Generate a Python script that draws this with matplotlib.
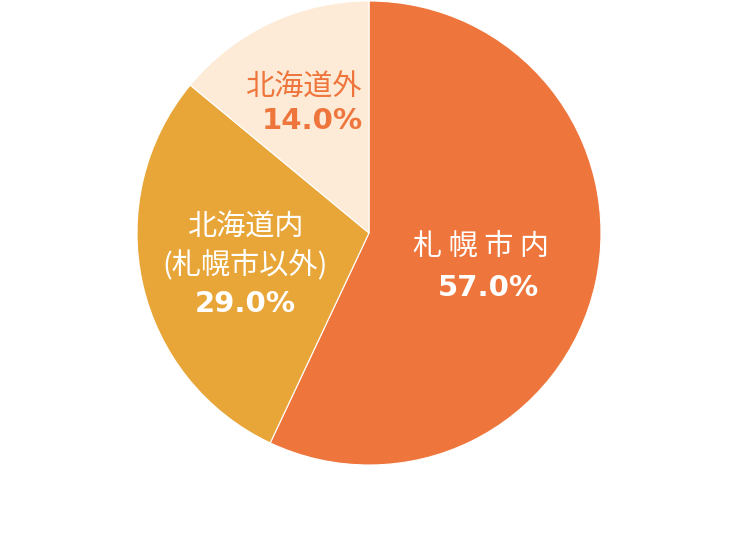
import matplotlib
matplotlib.use("Agg")
import matplotlib.pyplot as plt

# data
labels = ["札 幌 市 内", "北海道内\n(札幌市以外)", "北海道外"]
shares = [57.0, 29.0, 14.0]
colors = ["#EE763D", "#E8A639", "#FDEBD7"]
text_colors = ["white", "white", "#EE763D"]

plt.rcParams['font.family'] = ['Noto Sans CJK JP', 'DejaVu Sans']

W, H = 750, 539
fig = plt.figure(figsize=(W / 100, H / 100), dpi=100)
ax = fig.add_axes([0, 0, 1, 1])

cx, cy, r = 369, H - 233, 232
ax.pie(shares, colors=colors, startangle=90, counterclock=False,
       center=(cx, cy), radius=r, frame=True,
       wedgeprops=dict(edgecolor='white', linewidth=0.8))
ax.set_xlim(0, W)
ax.set_ylim(0, H)
ax.set_aspect('equal')
ax.axis('off')

# label anchors (pixel coords from the top-left)
name_pos = [(481, 247), (245, 246), (303, 88)]
pct_pos = [(488, 288), (245, 304), (312, 121)]
for name, s, (nx, ny), (px, py), tc in zip(labels, shares, name_pos, pct_pos, text_colors):
    ax.text(nx, H - ny, name, ha='center', va='center', fontsize=21,
            color=tc, linespacing=1.3)
    ax.text(px, H - py, f"{s:.1f}%", ha='center', va='center', fontsize=21,
            color=tc, fontweight='bold', family='DejaVu Sans')

fig.savefig("out.png", dpi=100)
